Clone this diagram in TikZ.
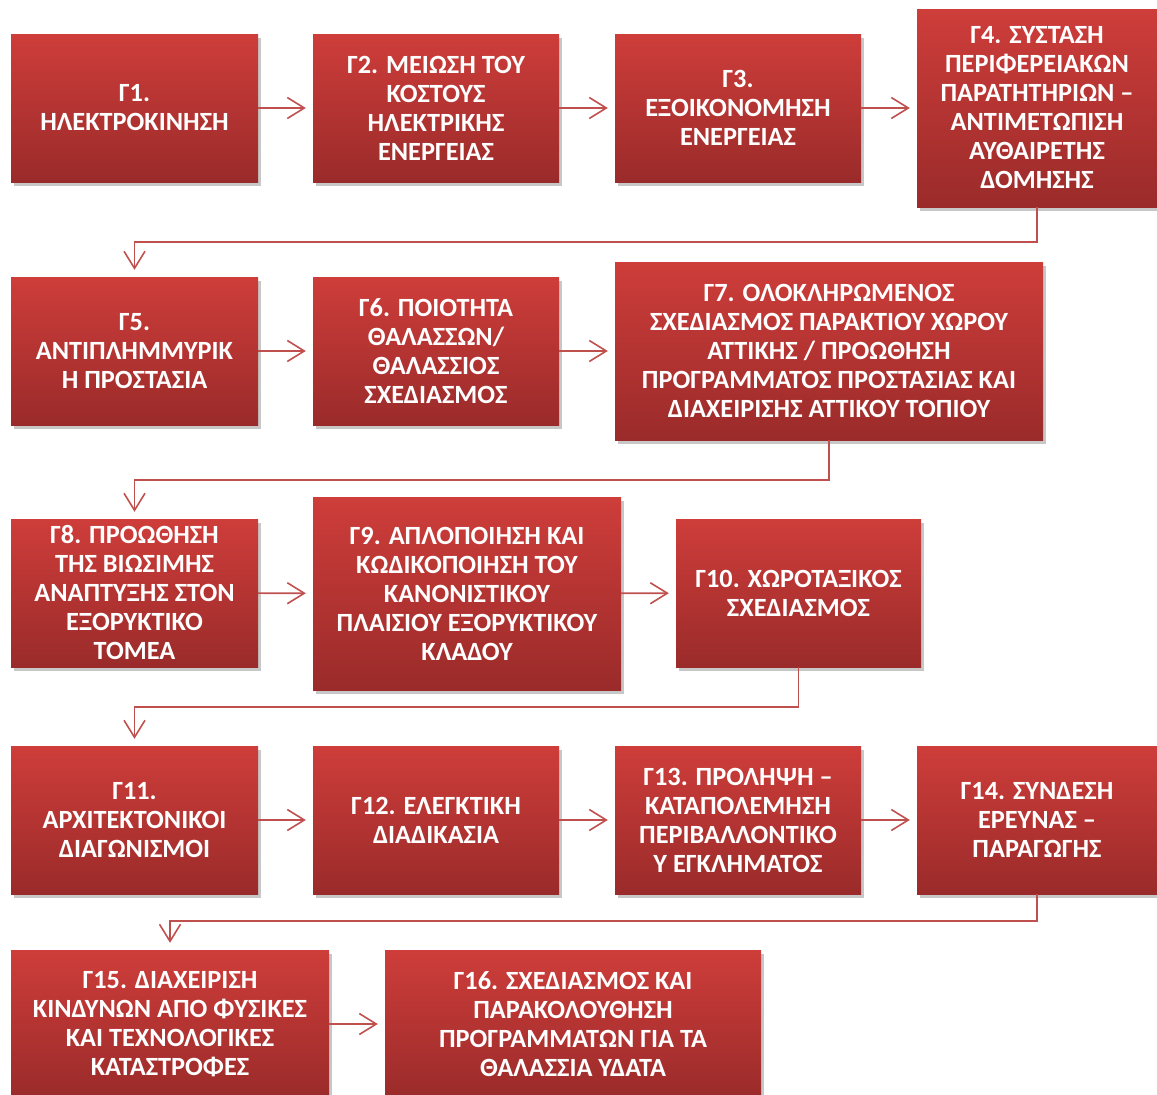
\documentclass[tikz,border=0pt]{standalone}
\usepackage{fontspec}
\setmainfont{Carlito}
\usetikzlibrary{arrows.meta,shadows}
\definecolor{boxtop}{HTML}{CE3D3A}
\definecolor{boxbot}{HTML}{9A2B2A}
\definecolor{linkred}{HTML}{C0504D}
\begin{document}
\begin{tikzpicture}[x=1pt,y=-1pt,
 box/.style={rectangle,top color=boxtop,bottom color=boxbot,text=white,align=center,inner sep=0pt,
  minimum width=246pt,minimum height=148pt,font=\bfseries\fontsize{26.3}{29}\selectfont,
  drop shadow={shadow xshift=3pt,shadow yshift=-4pt,fill=black,opacity=.22}},
 link/.style={draw=linkred,line width=1.6pt,shorten >=7pt,
  -{Straight Barb[length=17pt,width=21pt,line width=1.6pt]}}]
 \useasboundingbox (0,0) rectangle (1157,1095);
 \node[box,minimum width=247pt] (g1) at (134.5,108) {Γ1.\\ΗΛΕΚΤΡΟΚΙΝΗΣΗ};
 \node[box] (g2) at (436,108) {Γ2. ΜΕΙΩΣΗ ΤΟΥ\\ΚΟΣΤΟΥΣ\\ΗΛΕΚΤΡΙΚΗΣ\\ΕΝΕΡΓΕΙΑΣ};
 \node[box] (g3) at (738,108) {Γ3.\\ΕΞΟΙΚΟΝΟΜΗΣΗ\\ΕΝΕΡΓΕΙΑΣ};
 \node[box,minimum width=240pt,minimum height=198pt] (g4) at (1037,108)
  {Γ4. ΣΥΣΤΑΣΗ\\ΠΕΡΙΦΕΡΕΙΑΚΩΝ\\ΠΑΡΑΤΗΤΗΡΙΩΝ –\\ΑΝΤΙΜΕΤΩΠΙΣΗ\\ΑΥΘΑΙΡΕΤΗΣ\\ΔΟΜΗΣΗΣ};
 \node[box,minimum width=247pt] (g5) at (134.5,351) {Γ5.\\ΑΝΤΙΠΛΗΜΜΥΡΙΚ\\Η ΠΡΟΣΤΑΣΙΑ};
 \node[box] (g6) at (436,351) {Γ6. ΠΟΙΟΤΗΤΑ\\ΘΑΛΑΣΣΩΝ/\\ΘΑΛΑΣΣΙΟΣ\\ΣΧΕΔΙΑΣΜΟΣ};
 \node[box,minimum width=428pt,minimum height=178pt] (g7) at (829,351)
  {Γ7. ΟΛΟΚΛΗΡΩΜΕΝΟΣ\\ΣΧΕΔΙΑΣΜΟΣ ΠΑΡΑΚΤΙΟΥ ΧΩΡΟΥ\\ΑΤΤΙΚΗΣ / ΠΡΟΩΘΗΣΗ\\ΠΡΟΓΡΑΜΜΑΤΟΣ ΠΡΟΣΤΑΣΙΑΣ ΚΑΙ\\ΔΙΑΧΕΙΡΙΣΗΣ ΑΤΤΙΚΟΥ ΤΟΠΙΟΥ};
 \node[box,minimum width=247pt] (g8) at (134.5,593)
  {Γ8. ΠΡΟΩΘΗΣΗ\\ΤΗΣ ΒΙΩΣΙΜΗΣ\\ΑΝΑΠΤΥΞΗΣ ΣΤΟΝ\\ΕΞΟΡΥΚΤΙΚΟ\\ΤΟΜΕΑ};
 \node[box,minimum width=308pt,minimum height=193pt] (g9) at (467,593.5)
  {Γ9. ΑΠΛΟΠΟΙΗΣΗ ΚΑΙ\\ΚΩΔΙΚΟΠΟΙΗΣΗ ΤΟΥ\\ΚΑΝΟΝΙΣΤΙΚΟΥ\\ΠΛΑΙΣΙΟΥ ΕΞΟΡΥΚΤΙΚΟΥ\\ΚΛΑΔΟΥ};
 \node[box,minimum width=245pt] (g10) at (798.5,593) {Γ10. ΧΩΡΟΤΑΞΙΚΟΣ\\ΣΧΕΔΙΑΣΜΟΣ};
 \node[box,minimum width=247pt] (g11) at (134.5,820) {Γ11.\\ΑΡΧΙΤΕΚΤΟΝΙΚΟΙ\\ΔΙΑΓΩΝΙΣΜΟΙ};
 \node[box] (g12) at (436,820) {Γ12. ΕΛΕΓΚΤΙΚΗ\\ΔΙΑΔΙΚΑΣΙΑ};
 \node[box] (g13) at (738,820) {Γ13. ΠΡΟΛΗΨΗ –\\ΚΑΤΑΠΟΛΕΜΗΣΗ\\ΠΕΡΙΒΑΛΛΟΝΤΙΚΟ\\Υ ΕΓΚΛΗΜΑΤΟΣ};
 \node[box,minimum width=240pt] (g14) at (1037,820) {Γ14. ΣΥΝΔΕΣΗ\\ΕΡΕΥΝΑΣ –\\ΠΑΡΑΓΩΓΗΣ};
 \node[box,minimum width=318pt] (g15) at (170,1024)
  {Γ15. ΔΙΑΧΕΙΡΙΣΗ\\ΚΙΝΔΥΝΩΝ ΑΠΟ ΦΥΣΙΚΕΣ\\ΚΑΙ ΤΕΧΝΟΛΟΓΙΚΕΣ\\ΚΑΤΑΣΤΡΟΦΕΣ};
 \node[box,minimum width=376pt] (g16) at (573,1024)
  {Γ16. ΣΧΕΔΙΑΣΜΟΣ ΚΑΙ\\ΠΑΡΑΚΟΛΟΥΘΗΣΗ\\ΠΡΟΓΡΑΜΜΑΤΩΝ ΓΙΑ ΤΑ\\ΘΑΛΑΣΣΙΑ ΥΔΑΤΑ};
 \draw[link] (g1) -- (g2); \draw[link] (g2) -- (g3); \draw[link] (g3) -- (g4);
 \draw[link] (g4.south) -- ++(0,35) -| (g5.north);
 \draw[link] (g5) -- (g6); \draw[link] (g6) -- (g7);
 \draw[link] (g7.south) -- ++(0,40) -| (g8.north);
 \draw[link] (g8) -- (g9); \draw[link] (g9) -- (g10);
 \draw[link] (g10.south) -- ++(0,40) -| (g11.north);
 \draw[link] (g11) -- (g12); \draw[link] (g12) -- (g13); \draw[link] (g13) -- (g14);
 \draw[link] (g14.south) -- ++(0,27) -| (g15.north);
 \draw[link] (g15) -- (g16);
\end{tikzpicture}
\end{document}
